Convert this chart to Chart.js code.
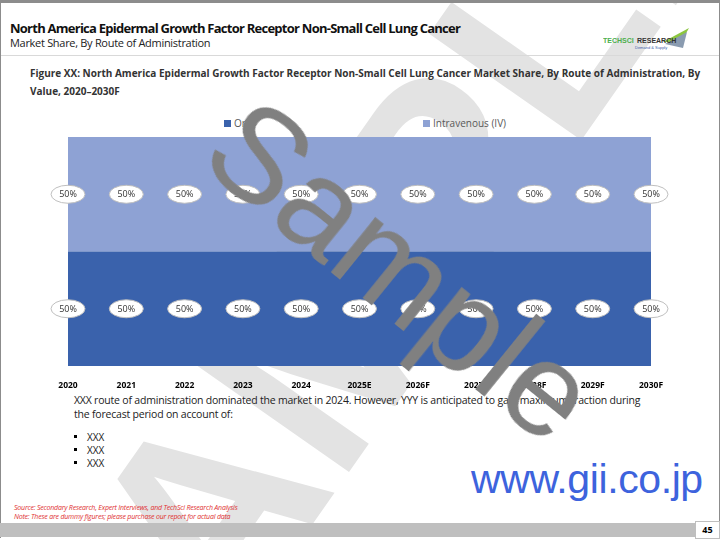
<!DOCTYPE html>
<html>
<head>
<meta charset="utf-8">
<script src="https://cdn.jsdelivr.net/npm/chart.js@4.4.1/dist/chart.umd.min.js"></script>
<style>
  body { margin: 0; width: 720px; height: 540px; position: relative; overflow: hidden; background: #fff; font-family: "Open Sans", sans-serif; }
  .abs { position: absolute; white-space: nowrap; }
  #frame-top { left: 0; top: 0; width: 720px; height: 3px; background: #8c8c8c; }
  #frame-left { left: 0; top: 0; width: 1px; height: 538px; background: #8c8c8c; }
  #frame-right { left: 719px; top: 0; width: 1px; height: 538px; background: #8c8c8c; }
  #header-line { left: 1px; top: 55px; width: 718px; height: 1px; background: #d9d9d9; }
  #footer { left: 0; top: 523px; width: 695px; height: 14px; background: #bfbfbf; }
  #pagebox { left: 695px; top: 521px; width: 23px; height: 16px; background: #fff; border: 1px solid #bfbfbf; font-size: 9px; font-weight: bold; text-align: center; line-height: 16px; }
  #title { left: 10px; top: 19px; font-size: 13px; font-weight: bold; letter-spacing: -0.75px; color: #111; }
  #subtitle { left: 10px; top: 35px; font-size: 11px; letter-spacing: -0.3px; color: #222; }
  #figcap { left: 30px; top: 64px; width: 680px; white-space: normal; font-size: 10px; font-weight: bold; line-height: 18px; letter-spacing: 0px; color: #333; }
  .leg { top: 116px; font-size: 10px; color: #595959; }
  .leg i { display: inline-block; width: 7px; height: 7px; margin-right: 3px; vertical-align: 0px; }
  #para { left: 74px; top: 393px; width: 570px; white-space: normal; font-size: 10.5px; line-height: 14px; letter-spacing: -0.2px; color: #222; }
  .bul { left: 74px; font-size: 10px; color: #222; }
  .bul b { display: inline-block; width: 3px; height: 3px; background: #000; margin-right: 10px; vertical-align: 3px; }
  .src { left: 14px; font-size: 7px; font-style: italic; color: #e03030; letter-spacing: -0.2px; }
  #gii { left: 471px; top: 456px; font-family: "Liberation Sans", Arial, sans-serif; font-size: 41px; color: #3d63dd; letter-spacing: -0.4px; }
  #wm-big { left: 370px; top: 280px; font-family: "Liberation Sans", Arial, sans-serif; font-size: 270px; font-weight: bold; color: #e3e3e3; transform: translate(-50%, -50%) rotate(-55deg); }
  #wm { left: 402px; top: 270px; font-family: "Liberation Sans", Arial, sans-serif; font-size: 134px; color: #808080; transform: translate(-50%, -50%) rotate(39deg); }
  #wrap { left: 0; top: 128px; width: 720px; height: 260px; }
  #logo { left: 603px; top: 28px; }
</style>
</head>
<body>
<div class="abs" id="wm-big">SAMPLE</div>
<div class="abs" id="frame-top"></div>
<div class="abs" id="frame-left"></div>
<div class="abs" id="frame-right"></div>
<div class="abs" id="header-line"></div>
<div class="abs" id="title">North America Epidermal Growth Factor Receptor Non-Small Cell Lung Cancer</div>
<div class="abs" id="subtitle">Market Share, By Route of Administration</div>
<div class="abs" id="logo">
  <svg width="90" height="24">
    <polygon points="60,14 86,0 78,14" fill="#8cc63f"/>
    <polygon points="62,16 84,4 80,20" fill="#8a9bb0"/>
    <text x="0" y="15" font-size="7" font-family="Liberation Sans" font-weight="bold" fill="#4cae4c">TECHSCI</text>
    <text x="34" y="15" font-size="7" font-family="Liberation Sans" font-weight="bold" fill="#333">RESEARCH</text>
    <text x="32" y="21" font-size="4" font-family="Liberation Sans" fill="#3a62ac">Demand &amp; Supply</text>
  </svg>
</div>
<div class="abs" id="figcap">Figure XX: North America Epidermal Growth Factor Receptor Non-Small Cell Lung Cancer Market Share, By Route of Administration, By Value, 2020–2030F</div>
<div class="abs leg" style="left:224px"><i style="background:#3a62ac"></i>Oral</div>
<div class="abs leg" style="left:423px"><i style="background:#8ea2d4"></i>Intravenous (IV)</div>
<div class="abs" id="wrap"><canvas id="chart" width="720" height="260"></canvas></div>
<div class="abs" id="para">XXX route of administration dominated the market in 2024. However, YYY is anticipated to gain maximum traction during the forecast period on account of:</div>
<div class="abs bul" style="top:430px"><b></b>XXX</div>
<div class="abs bul" style="top:443px"><b></b>XXX</div>
<div class="abs bul" style="top:456px"><b></b>XXX</div>
<div class="abs" id="gii">www.gii.co.jp</div>
<div class="abs src" style="top:503px">Source: Secondary Research, Expert Interviews, and TechSci Research Analysis</div>
<div class="abs src" style="top:512px">Note: These are dummy figures; please purchase our report for actual data</div>
<div class="abs" id="footer"></div>
<div class="abs" id="pagebox">45</div>
<div class="abs" id="wm">Sample</div>
<script>
const categories = ["2020", "2021", "2022", "2023", "2024", "2025E", "2026F", "2027F", "2028F", "2029F", "2030F"];
const oral = [50, 50, 50, 50, 50, 50, 50, 50, 50, 50, 50];
const intravenous = [50, 50, 50, 50, 50, 50, 50, 50, 50, 50, 50];

// white oval labels in the middle of each band
const ovalLabels = {
  id: "ovalLabels",
  afterDatasetsDraw(chart) {
    const ctx = chart.ctx;
    const y = chart.scales.y;
    const base = new Array(categories.length).fill(0);
    chart.data.datasets.forEach((ds, di) => {
      const meta = chart.getDatasetMeta(di);
      meta.data.forEach((pt, i) => {
        const v = ds.data[i];
        const py = y.getPixelForValue(base[i] + v / 2);
        base[i] += v;
        ctx.save();
        ctx.beginPath();
        ctx.ellipse(pt.x, py, 17, 9, 0, 0, Math.PI * 2);
        ctx.fillStyle = "#fff";
        ctx.fill();
        ctx.strokeStyle = "#bfbfbf";
        ctx.lineWidth = 1;
        ctx.stroke();
        ctx.fillStyle = "#333";
        ctx.font = "9px 'Open Sans'";
        ctx.textAlign = "center";
        ctx.textBaseline = "middle";
        ctx.fillText(v + "%", pt.x, py + 0.5);
        ctx.restore();
      });
    });
  }
};

new Chart(document.getElementById("chart").getContext("2d"), {
  type: "line",
  data: {
    labels: categories,
    datasets: [
      { label: "Oral", data: oral, backgroundColor: "#3a62ac", borderWidth: 0, pointRadius: 0, fill: "origin" },
      { label: "Intravenous (IV)", data: intravenous, backgroundColor: "#8ea2d4", borderWidth: 0, pointRadius: 0, fill: "-1" }
    ]
  },
  options: {
    responsive: false,
    animation: false,
    layout: { padding: { left: 68, right: 69, top: 9, bottom: 0 } },
    plugins: { legend: { display: false }, tooltip: { enabled: false } },
    scales: {
      x: {
        offset: false,
        grid: { display: false },
        border: { display: false },
        ticks: { autoSkip: false, maxRotation: 0, padding: 6, color: "#000", font: { family: "Open Sans", size: 8.5, weight: "bold" } },
        afterFit: (s) => { s.height = 22; }
      },
      y: { display: false, stacked: true, min: 0, max: 100 }
    }
  },
  plugins: [ovalLabels]
});
</script>
</body>
</html>
